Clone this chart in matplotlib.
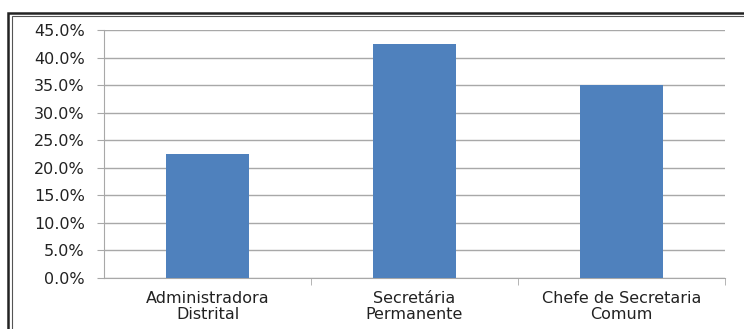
import matplotlib.pyplot as plt
from matplotlib.patches import Rectangle
from matplotlib.ticker import FuncFormatter, FixedLocator

categories = ["Administradora\nDistrital", "Secretária\nPermanente", "Chefe de Secretaria\nComum"]
values = [0.225, 0.425, 0.350]
yticks = [0.0, 0.05, 0.10, 0.15, 0.20, 0.25, 0.30, 0.35, 0.40, 0.45]

fig = plt.figure(figsize=(7.44, 3.29), dpi=100)
ax = fig.add_axes([0.140, 0.155, 0.834, 0.754])

x = range(len(categories))
ax.bar(x, values, width=0.4, color="#4F81BD", zorder=3)

ax.set_ylim(0, 0.45)
ax.set_xlim(-0.5, 2.5)
ax.set_yticks(yticks)
ax.yaxis.set_major_formatter(FuncFormatter(lambda v, p: "%.1f%%" % (v * 100)))
ax.grid(axis="y", color="#a8a8a8", linewidth=1, zorder=0)

ax.set_xticks(list(x))
ax.set_xticklabels(categories, fontsize=11.5, color="#222222", linespacing=1.1)
ax.tick_params(axis="x", length=0, pad=9)
ax.xaxis.set_minor_locator(FixedLocator([0.5, 1.5, 2.5]))
ax.tick_params(axis="x", which="minor", length=5, color="#a8a8a8")
ax.tick_params(axis="y", length=5, color="#a8a8a8", labelsize=11.5, labelcolor="#222222", pad=9)

for s in ["top", "right"]:
    ax.spines[s].set_visible(False)
for s in ["left", "bottom"]:
    ax.spines[s].set_color("#a8a8a8")

# outer frame (double line on top/left)
fig.patches.append(Rectangle((8 / 744, -0.1), 1.2, (329 - 13) / 329 + 0.1, transform=fig.transFigure,
                             fill=False, edgecolor="#222222", linewidth=1.8))
fig.patches.append(Rectangle((11.5 / 744, -0.1), 1.2, (329 - 16) / 329 + 0.1, transform=fig.transFigure,
                             fill=False, edgecolor="#555555", linewidth=0.8))

fig.savefig("out.png", dpi=100)
